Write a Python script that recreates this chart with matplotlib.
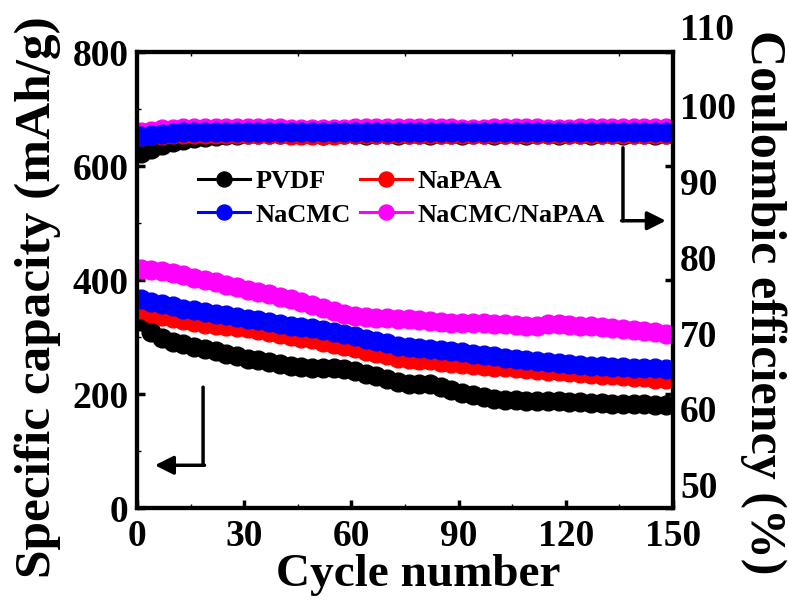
import numpy as np
import matplotlib
matplotlib.use("Agg")
import matplotlib.pyplot as plt
from matplotlib.transforms import blended_transform_factory

plt.rcParams['font.family'] = ['Liberation Serif', 'DejaVu Serif']
plt.rcParams['font.weight'] = 'bold'

# Cycle index of each recorded point
cycles = np.arange(1, 151, 3)

# Specific capacity (mAh/g)
cap_pvdf = [328, 308, 298, 292, 287, 283, 279, 275, 271, 266,
            262, 259, 256, 253, 250, 248, 246, 245, 246, 244,
            240, 236, 231, 226, 221, 218, 218, 217, 213, 207,
            202, 198, 195, 192, 190, 189, 188, 188, 187, 187,
            186, 186, 185, 184, 183, 183, 182, 182, 181, 180]
cap_napaa = [350, 342, 337, 333, 329, 326, 323, 321, 319, 317,
             315, 312, 309, 306, 302, 299, 296, 292, 288, 284,
             280, 276, 272, 268, 264, 262, 260, 259, 257, 255,
             253, 251, 250, 248, 247, 246, 244, 243, 241, 240,
             238, 237, 236, 234, 233, 231, 230, 229, 227, 226]
cap_nacmc = [366, 362, 358, 354, 350, 347, 344, 341, 338, 335,
             332, 329, 326, 323, 320, 317, 315, 312, 309, 305,
             301, 297, 293, 289, 285, 283, 281, 279, 277, 275,
             273, 271, 269, 266, 264, 262, 260, 258, 256, 254,
             253, 251, 250, 249, 248, 247, 246, 246, 245, 244]
cap_mix = [420, 418, 415, 412, 408, 404, 400, 396, 391, 387,
           383, 379, 375, 371, 367, 362, 357, 351, 345, 340,
           337, 335, 334, 333, 332, 331, 330, 328, 326, 325,
           325, 325, 324, 323, 322, 321, 320, 320, 322, 322,
           321, 320, 319, 318, 316, 314, 312, 310, 308, 306]

# Coulombic efficiency (%)
ce_pvdf = [93.8, 94.3, 94.8, 95.2, 95.5, 95.7, 95.9, 96.0, 96.1, 96.2,
           96.3, 96.3, 96.3, 96.3, 96.4, 96.3, 96.3, 96.2, 96.3, 96.3,
           96.3, 96.2, 96.3, 96.3, 96.2, 96.3, 96.3, 96.2, 96.3, 96.3,
           96.2, 96.3, 96.3, 96.2, 96.3, 96.3, 96.2, 96.3, 96.3, 96.2,
           96.3, 96.3, 96.2, 96.3, 96.3, 96.2, 96.3, 96.3, 96.2, 96.3]
ce_napaa = [96.0, 96.1, 96.2, 96.3, 96.3, 96.3, 96.3, 96.3, 96.3, 96.3,
            96.3, 96.3, 96.3, 96.3, 96.2, 96.2, 96.1, 96.1, 96.2, 96.3,
            96.3, 96.3, 96.3, 96.3, 96.3, 96.3, 96.3, 96.3, 96.3, 96.3,
            96.3, 96.3, 96.3, 96.3, 96.3, 96.3, 96.3, 96.3, 96.3, 96.3,
            96.3, 96.3, 96.3, 96.3, 96.3, 96.3, 96.3, 96.3, 96.3, 96.3]
ce_nacmc = [96.0, 96.2, 96.3, 96.4, 96.5, 96.5, 96.5, 96.5, 96.5, 96.5,
            96.5, 96.5, 96.5, 96.5, 96.5, 96.5, 96.5, 96.5, 96.5, 96.5,
            96.5, 96.5, 96.5, 96.5, 96.5, 96.5, 96.5, 96.5, 96.5, 96.5,
            96.5, 96.5, 96.5, 96.5, 96.5, 96.5, 96.5, 96.5, 96.5, 96.5,
            96.5, 96.5, 96.5, 96.5, 96.5, 96.5, 96.5, 96.5, 96.5, 96.5]
ce_mix = [96.5, 96.7, 96.9, 97.0, 97.1, 97.1, 97.1, 97.1, 97.1, 97.1,
          97.1, 97.1, 97.1, 97.1, 97.0, 97.0, 97.0, 97.0, 97.0, 97.0,
          97.1, 97.1, 97.1, 97.1, 97.1, 97.1, 97.1, 97.1, 97.1, 97.1,
          97.0, 97.0, 97.0, 97.1, 97.1, 97.1, 97.1, 97.1, 97.0, 97.0,
          97.0, 97.1, 97.1, 97.1, 97.1, 97.1, 97.1, 97.1, 97.1, 97.1]

names = ['PVDF', 'NaPAA', 'NaCMC', 'NaCMC/NaPAA']
colors = ['#000000', '#ff0000', '#0000ff', '#ff00ff']

x_ticks = [0, 30, 60, 90, 120, 150]
cap_ticks = [0, 200, 400, 600, 800]
ce_ticks = [50, 60, 70, 80, 90, 100]

W, H = 789, 605
fig = plt.figure(figsize=(W / 100, H / 100), dpi=100)
ax = fig.add_axes([0.1736, 0.1603, 0.6794, 0.7537])
ax2 = ax.twinx()
ax.set_zorder(ax2.get_zorder() + 1)
ax.patch.set_visible(False)

ms = 13.5
lw = 1.5
caps = [cap_pvdf, cap_napaa, cap_nacmc, cap_mix]
handles = {}
for vals, name, c in zip(caps, names, colors):
    h, = ax.plot(cycles, vals, '-o', color=c, mec=c, ms=ms, lw=lw, label=name)
    handles[name] = h

ces = [ce_pvdf, ce_napaa, ce_mix, ce_nacmc]
ce_colors = [colors[0], colors[1], colors[3], colors[2]]
for vals, c in zip(ces, ce_colors):
    ax2.plot(cycles, vals, '-o', color=c, mec=c, ms=ms, lw=lw)

ax.set_xlim(0, 150)
ax.set_ylim(0, 800)
ax2.set_ylim(46.9, 107.1)

ax.set_xticks(x_ticks)
ax.set_xticks(np.arange(15, 150, 30), minor=True)
ax.set_yticks(cap_ticks)
ax.set_yticks([100, 300, 500, 700], minor=True)
ax2.set_yticks(ce_ticks)

tick_font = dict(fontsize=27, fontweight='bold')
ax.set_xticklabels([str(t) for t in x_ticks], **tick_font)
ax.set_yticklabels([str(t) for t in cap_ticks], **tick_font)
ax2.set_yticklabels([str(t) for t in ce_ticks], **tick_font)
trans = blended_transform_factory(ax2.transAxes, ax2.transData)
ax2.annotate('110', xy=(1.0, 110), xycoords=trans, xytext=(5, 0),
             textcoords='offset points', ha='left', va='center',
             annotation_clip=False, **tick_font)

ax.tick_params(axis='both', which='major', direction='in', width=2.5, length=6)
ax.tick_params(axis='y', which='major', right=True, pad=6)
ax.tick_params(axis='x', which='major', pad=8, top=False)
ax.tick_params(axis='both', which='minor', direction='in', width=1, length=3)
ax.tick_params(axis='x', which='minor', top=True)
ax2.tick_params(axis='y', length=0, pad=5)

for sp in list(ax.spines.values()) + list(ax2.spines.values()):
    sp.set_linewidth(3)

# Axis titles
fig.text(418 / W, 1 - 575 / H, 'Cycle number', fontsize=34, fontweight='bold',
         ha='center', va='center')
fig.text(38 / W, 1 - 297 / H, 'Specific capacity (mAh/g)', fontsize=37,
         fontweight='bold', rotation=90, ha='center', va='center')
fig.text(763 / W, 1 - 302 / H, 'Coulombic efficiency (%)', fontsize=36,
         fontweight='bold', rotation=270, ha='center', va='center')

order = ['PVDF', 'NaCMC', 'NaPAA', 'NaCMC/NaPAA']
leg = ax.legend(handles=[handles[n] for n in order], loc='upper left',
                bbox_to_anchor=(0.114, 0.742), ncol=2, frameon=False, fontsize=19,
                handlelength=1.97, handletextpad=0.19, columnspacing=0.38,
                labelspacing=0.38, borderpad=0, borderaxespad=0, markerscale=0.8)
for t in leg.get_texts():
    t.set_fontweight('bold')
for line in leg.get_lines():
    line.set_linewidth(2.2)

# Guide arrows pointing to the axis each group belongs to
ax.annotate('', xy=(18.5, 75), xytext=(18.5, 212),
            arrowprops=dict(arrowstyle='-', lw=2.5, color='k', shrinkA=0, shrinkB=0))
ax.annotate('', xy=(5.0, 75), xytext=(18.9, 75),
            arrowprops=dict(arrowstyle='-|>', lw=2.5, color='k', shrinkA=0, shrinkB=0,
                            mutation_scale=28))
ax.annotate('', xy=(136, 504), xytext=(136, 632),
            arrowprops=dict(arrowstyle='-', lw=2.5, color='k', shrinkA=0, shrinkB=0))
ax.annotate('', xy=(148, 504), xytext=(135.6, 504),
            arrowprops=dict(arrowstyle='-|>', lw=2.5, color='k', shrinkA=0, shrinkB=0,
                            mutation_scale=28))

fig.savefig('out.png', dpi=100)
